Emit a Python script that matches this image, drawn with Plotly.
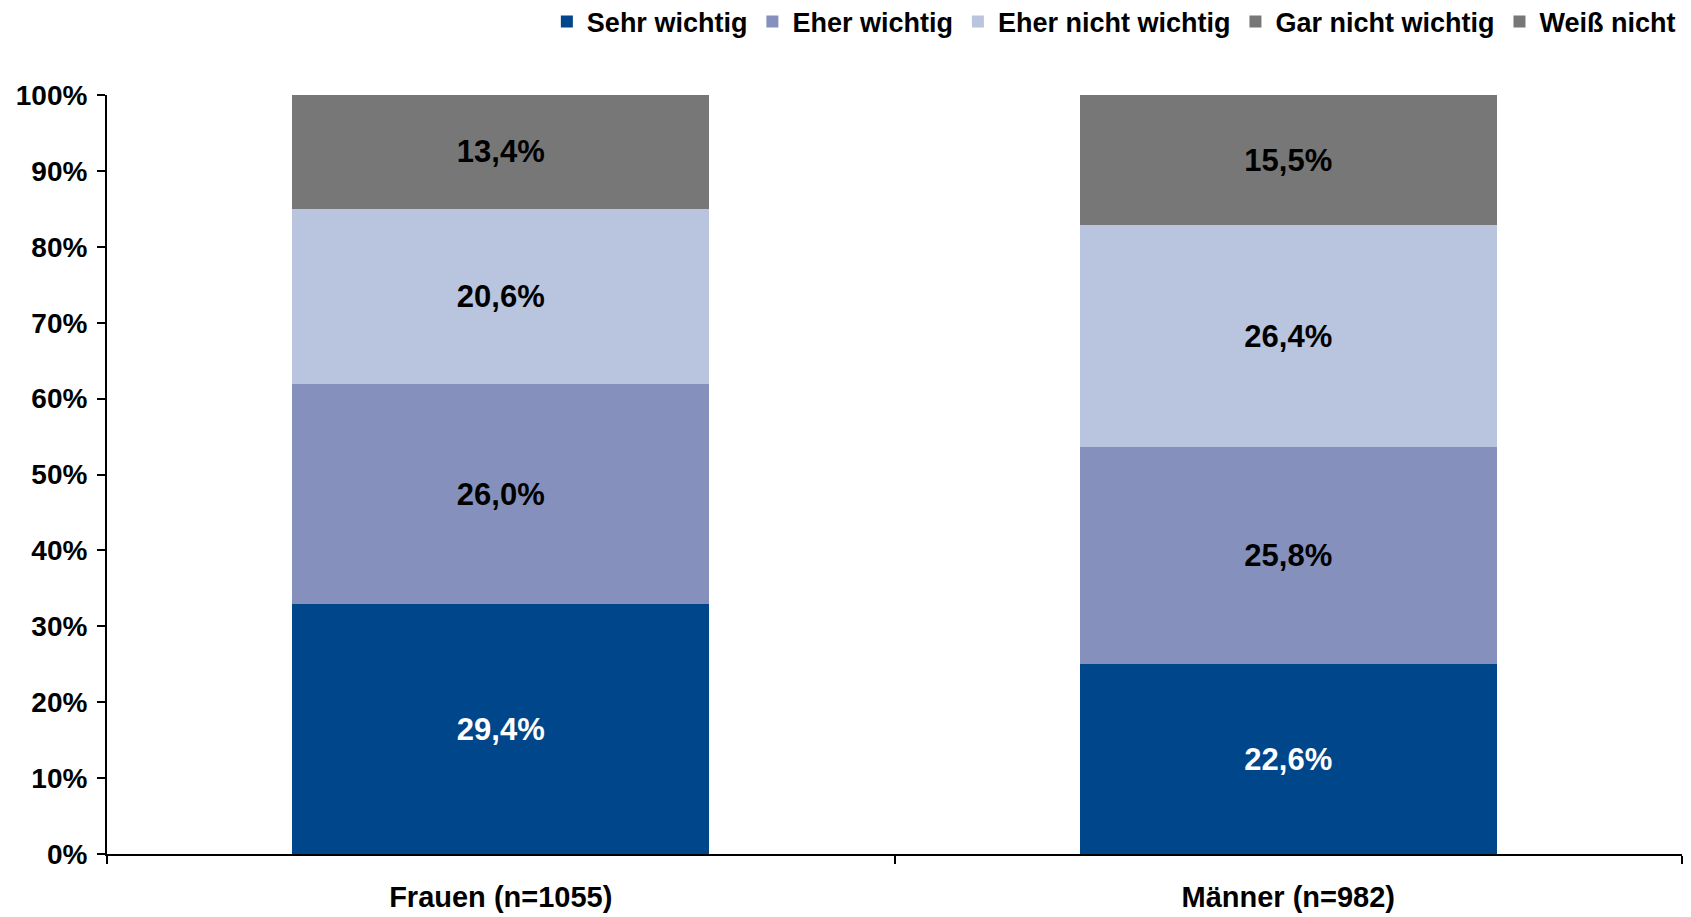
import plotly.graph_objects as go

categories = ["Frauen (n=1055)", "Männer (n=982)"]
series_names = ["Sehr wichtig", "Eher wichtig", "Eher nicht wichtig", "Gar nicht wichtig", "Weiß nicht"]
sehr_wichtig = [29.4, 22.6]
eher_wichtig = [26.0, 25.8]
eher_nicht_wichtig = [20.6, 26.4]
gar_nicht_wichtig = [13.4, 15.5]
weiss_nicht = [0.0, 0.0]

values = [sehr_wichtig, eher_wichtig, eher_nicht_wichtig, gar_nicht_wichtig, weiss_nicht]
colors = ["#00468a", "#8591bc", "#b9c4de", "#777777", "#777777"]
text_colors = ["white", "black", "black", "black", "black"]

font_family = "Liberation Sans, Arial, sans-serif"

fig = go.Figure()
for name, vals, col, tcol in zip(series_names, values, colors, text_colors):
    labels = [("%.1f%%" % v).replace(".", ",") if v > 0 else "" for v in vals]
    fig.add_trace(go.Bar(
        x=categories, y=vals, name=name,
        marker=dict(color=col, line=dict(width=0)),
        text=labels, textposition="inside", insidetextanchor="middle",
        textangle=0, constraintext="none",
        textfont=dict(family=font_family, size=31, color=tcol, weight="bold"),
    ))

fig.update_layout(
    barmode="stack", barnorm="percent", bargap=0.47,
    width=1691, height=917,
    margin=dict(l=107, r=9, t=95, b=63, autoexpand=False),
    paper_bgcolor="white", plot_bgcolor="white",
    font=dict(family=font_family, size=28, color="black", weight="bold"),
    legend=dict(orientation="h", x=0.994, xanchor="right", xref="container",
                y=0.976, yanchor="middle", yref="container",
                font=dict(family=font_family, size=27, color="black", weight="bold"),
                traceorder="normal", itemwidth=30, tracegroupgap=0),
    showlegend=True,
)
fig.update_yaxes(range=[0, 100], dtick=10, ticksuffix="%", showgrid=False, zeroline=False,
                 showline=True, linecolor="black", linewidth=2, automargin=False,
                 ticks="outside", ticklen=8, tickwidth=2, tickcolor="black",
                 ticklabelstandoff=4,
                 tickfont=dict(family=font_family, size=28, color="black", weight="bold"))
fig.update_xaxes(showgrid=False, showline=True, linecolor="black", linewidth=2, automargin=False,
                 ticks="outside", ticklen=8, tickwidth=2, tickcolor="black",
                 tickson="boundaries", ticklabelstandoff=16,
                 tickfont=dict(family=font_family, size=29, color="black", weight="bold"))

fig.write_html("out.html", config={"displayModeBar": False},
               post_script="document.body.style.margin='0';")
